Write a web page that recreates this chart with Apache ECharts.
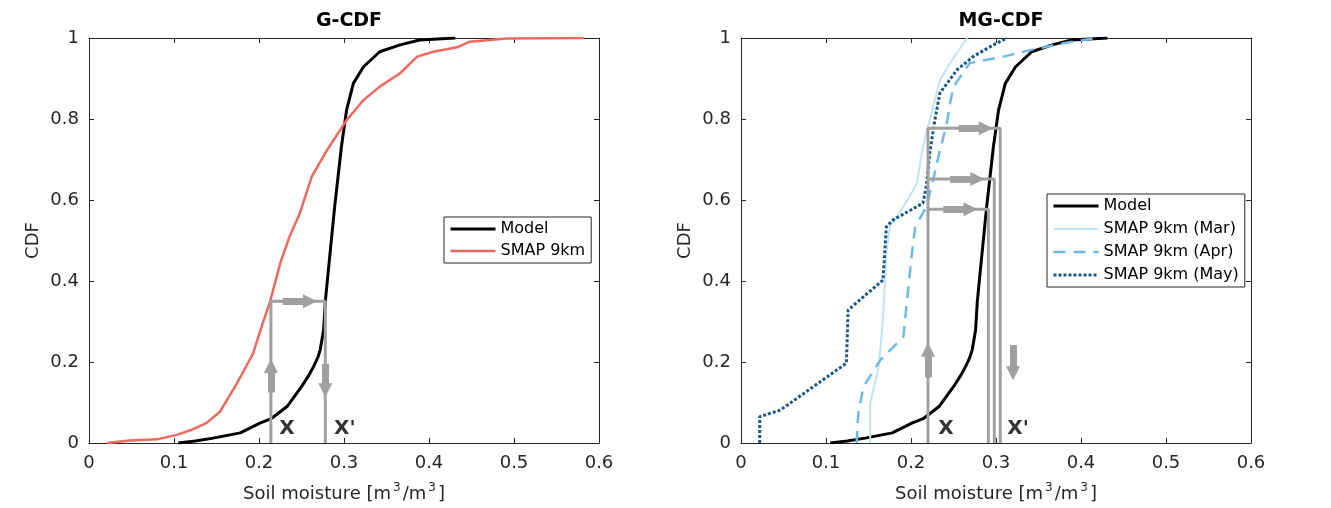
<!DOCTYPE html>
<html><head><meta charset="utf-8">
<script src="https://cdn.jsdelivr.net/npm/echarts@6/dist/echarts.min.js"></script>
<style>html,body{margin:0;padding:0;background:#fff}#c{width:1331px;height:508px}</style>
</head><body><div id="c"></div>
<script>
// ---- data ----
const panelTitles = ['G-CDF', 'MG-CDF'];
const xAxisTitle = 'Soil moisture [m{sup|3}/m{sup|3}]';
const yAxisTitle = 'CDF';

const modelX = [0.105,0.125,0.146,0.178,0.201,0.215,0.233,0.250,0.258,0.264,0.269,0.272,0.276,0.278,0.282,0.289,0.297,0.303,0.311,0.323,0.342,0.366,0.389,0.431];
const modelY = [0,0.005,0.012,0.025,0.049,0.061,0.09,0.139,0.165,0.188,0.21,0.23,0.279,0.349,0.435,0.583,0.732,0.822,0.888,0.929,0.966,0.983,0.995,1.0];

const smapX = [0.021,0.048,0.080,0.103,0.120,0.138,0.154,0.174,0.193,0.203,0.213,0.225,0.236,0.248,0.262,0.280,0.303,0.323,0.342,0.366,0.386,0.405,0.433,0.448,0.491,0.582];
const smapY = [0,0.006,0.009,0.02,0.032,0.049,0.077,0.147,0.221,0.287,0.349,0.444,0.51,0.567,0.658,0.723,0.797,0.847,0.88,0.913,0.954,0.966,0.977,0.991,0.999,1.0];

const marX = [0.152,0.152,0.162,0.167,0.171,0.175,0.191,0.207,0.214,0.222,0.234,0.246,0.266];
const marY = [0,0.098,0.188,0.304,0.468,0.534,0.583,0.641,0.732,0.797,0.896,0.938,1.0];

const aprX = [0.136,0.138,0.144,0.164,0.191,0.195,0.201,0.205,0.218,0.226,0.234,0.242,0.246,0.250,0.269,0.309,0.340,0.379,0.418];
const aprY = [0,0.073,0.139,0.205,0.262,0.345,0.468,0.534,0.583,0.649,0.723,0.787,0.839,0.88,0.938,0.954,0.97,0.987,1.0];

const mayX = [0.022,0.022,0.046,0.085,0.124,0.126,0.144,0.167,0.171,0.179,0.214,0.218,0.222,0.228,0.234,0.254,0.273,0.297,0.313];
const mayY = [0,0.065,0.081,0.139,0.197,0.328,0.361,0.402,0.534,0.551,0.592,0.633,0.715,0.797,0.864,0.921,0.954,0.983,1.0];

// guide lines (data coordinates)
const gGuides = [[[0.214,0],[0.214,0.35],[0.278,0.35],[0.278,0]]];
const mgGuides = [
  [[0.220,0],[0.220,0.777],[0.305,0.777],[0.305,0]],
  [[0.220,0.652],[0.298,0.652],[0.298,0]],
  [[0.220,0.577],[0.291,0.577],[0.291,0]]
];
// arrows: [start, end]
const gArrows = [
  [[0.214,0.125],[0.214,0.19]],
  [[0.228,0.35],[0.260,0.35]],
  [[0.278,0.195],[0.278,0.13]]
];
const mgArrows = [
  [[0.220,0.162],[0.220,0.23]],
  [[0.256,0.777],[0.288,0.777]],
  [[0.246,0.652],[0.278,0.652]],
  [[0.238,0.577],[0.270,0.577]],
  [[0.320,0.242],[0.320,0.172]]
];
// X / X' annotations
const gMarks = [['X',0.233,0.036],["X'",0.301,0.036]];
const mgMarks = [['X',0.241,0.036],["X'",0.326,0.036]];

// ---- build ----
const zip = (xs, ys) => xs.map((x, i) => [x, ys[i]]);
const FONT = 'DejaVu Sans';
const AX = '#262626';
const GREY = '#a0a0a0';
const grids = [
  {left: 89, top: 38, width: 510, height: 405, containLabel: false, outerBoundsMode: 'none'},
  {left: 741, top: 38, width: 510, height: 405, containLabel: false, outerBoundsMode: 'none'}
];
const fmt = v => String(+v.toFixed(1));
const xAxes = [], yAxes = [];
grids.forEach((g, i) => {
  xAxes.push({gridIndex: i, type: 'value', min: 0, max: 0.6, interval: 0.1, position: 'bottom',
    axisLine: {show: true, onZero: false, lineStyle: {color: AX, width: 1}},
    axisTick: {show: true, inside: true, length: 5, lineStyle: {color: AX}},
    axisLabel: {fontSize: 18, color: AX, margin: 11, fontFamily: FONT, formatter: fmt},
    splitLine: {show: false},
    name: xAxisTitle, nameLocation: 'middle', nameGap: 39,
    nameTextStyle: {fontSize: 18, color: AX, fontFamily: FONT, lineHeight: 24,
      rich: {sup: {fontSize: 12, color: AX, fontFamily: FONT, verticalAlign: 'top', lineHeight: 14, padding: [0, 2, 0, 2]}}}});
  xAxes.push({gridIndex: i, type: 'value', min: 0, max: 0.6, interval: 0.1, position: 'top',
    axisLine: {show: true, onZero: false, lineStyle: {color: AX, width: 1}},
    axisTick: {show: true, inside: true, length: 5, lineStyle: {color: AX}},
    axisLabel: {show: false}, splitLine: {show: false}});
  yAxes.push({gridIndex: i, type: 'value', min: 0, max: 1, interval: 0.2, position: 'left',
    axisLine: {show: true, onZero: false, lineStyle: {color: AX, width: 1}},
    axisTick: {show: true, inside: true, length: 5, lineStyle: {color: AX}},
    axisLabel: {fontSize: 18, color: AX, margin: 10, fontFamily: FONT, formatter: fmt},
    splitLine: {show: false},
    name: yAxisTitle, nameLocation: 'middle', nameGap: 47, nameRotate: 90,
    nameTextStyle: {fontSize: 18, color: AX, fontFamily: FONT}});
  yAxes.push({gridIndex: i, type: 'value', min: 0, max: 1, interval: 0.2, position: 'right',
    axisLine: {show: true, onZero: false, lineStyle: {color: AX, width: 1}},
    axisTick: {show: true, inside: true, length: 5, lineStyle: {color: AX}},
    axisLabel: {show: false}, splitLine: {show: false}});
});

function curve(name, xs, ys, panel, color, width, type) {
  return {name, type: 'line', xAxisIndex: panel * 2, yAxisIndex: panel * 2,
    data: zip(xs, ys), showSymbol: false, symbol: 'none', animation: false,
    lineStyle: {color, width, type: type || 'solid'}, itemStyle: {color}, z: 3};
}
function guides(list, panel) {
  return list.map(pts => ({type: 'line', xAxisIndex: panel * 2, yAxisIndex: panel * 2,
    data: pts, symbol: 'none', animation: false, silent: true,
    lineStyle: {color: GREY, width: 3}, z: 4}));
}
function arrows(list, panel) {
  return {type: 'lines', coordinateSystem: 'cartesian2d', xAxisIndex: panel * 2, yAxisIndex: panel * 2,
    data: list.map(c => ({coords: c})), symbol: ['none', 'triangle'], symbolSize: 14,
    lineStyle: {color: GREY, width: 7, opacity: 1}, itemStyle: {color: GREY}, animation: false, silent: true, z: 5};
}
function marks(list, panel) {
  return {type: 'scatter', xAxisIndex: panel * 2, yAxisIndex: panel * 2,
    data: list.map(m => ({name: m[0], value: [m[1], m[2]]})), symbolSize: 0, silent: true, animation: false,
    label: {show: true, position: 'inside', formatter: p => p.name, fontSize: 20, fontWeight: 'bold',
      color: '#000', fontFamily: FONT}, z: 6};
}

const series = [
  curve('Model', modelX, modelY, 0, '#000000', 3),
  curve('SMAP 9km', smapX, smapY, 0, '#f0695d', 2.5),
  ...guides(gGuides, 0), arrows(gArrows, 0), marks(gMarks, 0),
  curve('Model', modelX, modelY, 1, '#000000', 3),
  curve('SMAP 9km (Mar)', marX, marY, 1, '#c5e3f6', 2),
  curve('SMAP 9km (Apr)', aprX, aprY, 1, '#6dbbe6', 2.5, [12, 8]),
  curve('SMAP 9km (May)', mayX, mayY, 1, '#1b5a86', 3, [3, 2]),
  ...guides(mgGuides, 1), arrows(mgArrows, 1), marks(mgMarks, 1)
];

const legendCommon = {orient: 'vertical', itemWidth: 45, itemHeight: 16, padding: [4, 6, 4, 5],
  borderColor: '#262626', borderWidth: 1, backgroundColor: '#fff', itemGap: 6,
  itemStyle: {opacity: 0}, lineStyle: {width: 'inherit'},
  textStyle: {fontSize: 16, lineHeight: 16, color: '#000', fontFamily: FONT}, selectedMode: false};

const option = {
  animation: false,
  backgroundColor: '#fff',
  title: panelTitles.map((t, i) => ({text: t, left: i === 0 ? 344 : 996, top: 7, textAlign: 'center',
    textStyle: {fontSize: 19, fontWeight: 'bold', color: '#000', fontFamily: FONT}})),
  grid: grids,
  xAxis: xAxes,
  yAxis: yAxes,
  legend: [
    Object.assign({}, legendCommon, {data: ['Model', 'SMAP 9km'], left: 444, top: 217}),
    Object.assign({}, legendCommon, {data: ['Model', 'SMAP 9km (Mar)', 'SMAP 9km (Apr)', 'SMAP 9km (May)'], left: 1047, top: 194, itemGap: 7})
  ],
  series
};
const chart = echarts.init(document.getElementById('c'), null, {renderer: 'canvas'});
chart.setOption(option);
</script></body></html>
